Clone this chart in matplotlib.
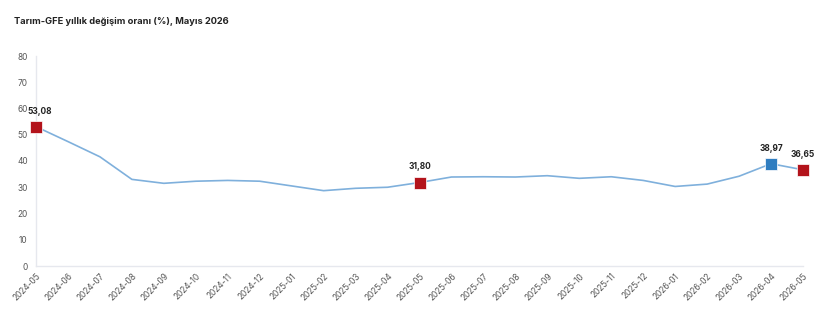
import matplotlib.pyplot as plt

plt.rcParams['font.family'] = ['Inter', 'DejaVu Sans']

months = ['2024-05', '2024-06', '2024-07', '2024-08', '2024-09', '2024-10', '2024-11',
          '2024-12', '2025-01', '2025-02', '2025-03', '2025-04', '2025-05', '2025-06',
          '2025-07', '2025-08', '2025-09', '2025-10', '2025-11', '2025-12', '2026-01',
          '2026-02', '2026-03', '2026-04', '2026-05']
values = [53.08, 47.4, 41.6, 33.0, 31.5, 32.3, 32.6, 32.3, 30.5, 28.7, 29.6, 30.0, 31.80,
          33.9, 34.0, 33.9, 34.4, 33.4, 34.0, 32.6, 30.3, 31.2, 34.2, 38.97, 36.65]
# highlighted points: index -> colour
red_idx = [0, 12, 24]
blue_idx = [23]

fig = plt.figure(figsize=(8.2, 3.16), dpi=100)
ax = fig.add_axes([36/820, 50/316, (803-36)/820, 210/316])

x = list(range(len(months)))
ax.plot(x, values, color='#7fb0dc', lw=1.2, zorder=2)
for i in red_idx + blue_idx:
    c = '#b3131b' if i in red_idx else '#2f7dc0'
    ax.plot(x[i], values[i], marker='s', ms=8.5, color=c, mec='white', mew=0.5, zorder=3, clip_on=False)
    dx = 3 if i == 0 else 0
    ax.annotate(f'{values[i]:.2f}'.replace('.', ','), (x[i], values[i]), xytext=(dx, 8),
                textcoords='offset points', ha='center', va='bottom', fontsize=6,
                fontweight='bold', color='#222222')

ax.set_xlim(0, 24)
ax.set_ylim(0, 80)
ax.set_yticks(range(0, 81, 10))
ax.set_xticks(x)
ax.set_xticklabels(months, rotation=45, ha='right', rotation_mode='anchor')
ax.tick_params(axis='both', length=0, labelsize=6, colors='#555555', pad=6)
ax.tick_params(axis='x', pad=4)
for s in ['top', 'right']:
    ax.spines[s].set_visible(False)
for s in ['left', 'bottom']:
    ax.spines[s].set_color('#e6e8ee')
    ax.spines[s].set_linewidth(1)

fig.text(14/820, 1-21/316, 'Tarım-GFE yıllık değişim oranı (%), Mayıs 2026', fontsize=6.7,
         fontweight='bold', color='#222222', va='center', ha='left')

plt.savefig('out.png', dpi=100)
